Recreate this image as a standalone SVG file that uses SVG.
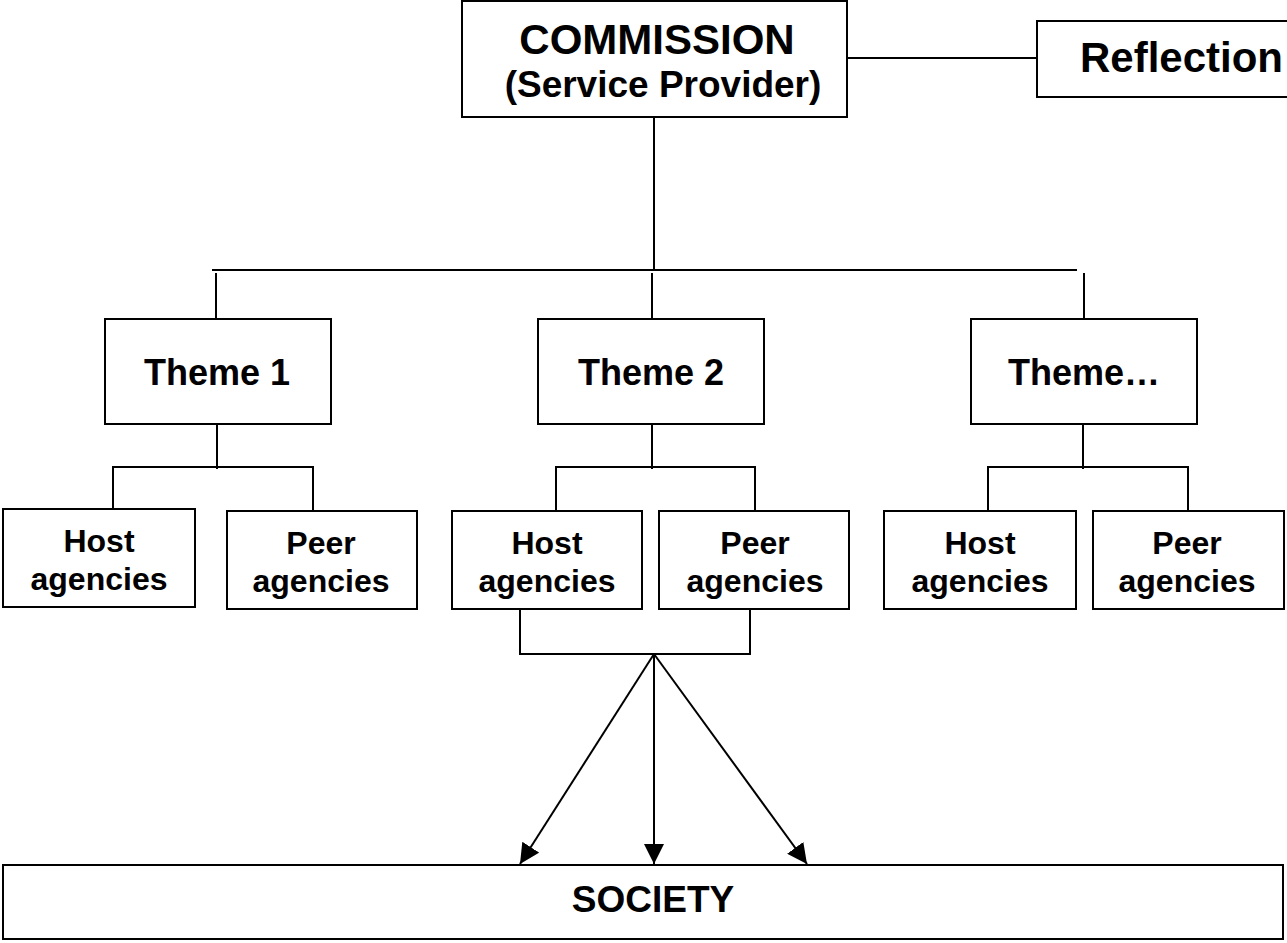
<svg xmlns="http://www.w3.org/2000/svg" width="1287" height="943" viewBox="0 0 1287 943">
<style>
.box{fill:#fff;stroke:#000;stroke-width:2}
.ln{fill:none;stroke:#000;stroke-width:2}
text{font-family:"Liberation Sans",Arial,sans-serif;font-weight:bold;fill:#000;text-anchor:middle}
.big{font-size:42px}
.ref{font-size:42px}
.mid{font-size:37px}
.th{font-size:36px}
.soc{font-size:37px}
.sm{font-size:32px}
</style>
<defs>
<marker id="arr" markerUnits="userSpaceOnUse" markerWidth="20" markerHeight="20" refX="20" refY="10" orient="auto">
<path d="M0,0 L20,10 L0,20 z" fill="#000"/>
</marker>
</defs>
<rect width="1287" height="943" fill="#fff"/>
<g id="connectors">
<line class="ln" x1="847" y1="58" x2="1037" y2="58"/>
<line class="ln" x1="654" y1="117" x2="654" y2="270"/>
<line class="ln" x1="212" y1="270" x2="1077" y2="270"/>
<line class="ln" x1="216" y1="273" x2="216" y2="319"/>
<line class="ln" x1="652" y1="273" x2="652" y2="319"/>
<line class="ln" x1="1084" y1="273" x2="1084" y2="319"/>
<path class="ln" d="M217,424 V469 M113,509 V467 H313 V511"/>
<path class="ln" d="M652,424 V469 M556,511 V467 H755 V511"/>
<path class="ln" d="M1083,424 V469 M988,511 V467 H1188 V511"/>
<path class="ln" d="M520,596 V654 H750 V596"/>
<line class="ln" x1="654" y1="654" x2="520" y2="864" marker-end="url(#arr)"/>
<line class="ln" x1="654" y1="654" x2="654" y2="864" marker-end="url(#arr)"/>
<line class="ln" x1="654" y1="654" x2="807" y2="864" marker-end="url(#arr)"/>
</g>
<g id="commission">
<rect class="box" x="462" y="1" width="385" height="116"/>
<text class="big" x="657" y="54">COMMISSION</text>
<text class="mid" x="663" y="97">(Service Provider)</text>
</g>
<g id="reflection">
<rect class="box" x="1037" y="21" width="260" height="76"/>
<text class="ref" x="1080" y="72" style="text-anchor:start">Reflection</text>
</g>
<g id="theme1">
<rect class="box" x="105" y="319" width="226" height="105"/>
<text class="th" x="217" y="385">Theme 1</text>
</g>
<g id="theme2">
<rect class="box" x="538" y="319" width="226" height="105"/>
<text class="th" x="651" y="385">Theme 2</text>
</g>
<g id="theme3">
<rect class="box" x="971" y="319" width="226" height="105"/>
<text class="th" x="1084" y="385">Theme…</text>
</g>
<g id="host1">
<rect class="box" x="3" y="509" width="192" height="98"/>
<text class="sm" x="99" y="552">Host</text>
<text class="sm" x="99" y="590">agencies</text>
</g>
<g id="peer1">
<rect class="box" x="227" y="511" width="190" height="98"/>
<text class="sm" x="321" y="554">Peer</text>
<text class="sm" x="321" y="592">agencies</text>
</g>
<g id="host2">
<rect class="box" x="452" y="511" width="190" height="98"/>
<text class="sm" x="547" y="554">Host</text>
<text class="sm" x="547" y="592">agencies</text>
</g>
<g id="peer2">
<rect class="box" x="659" y="511" width="190" height="98"/>
<text class="sm" x="755" y="554">Peer</text>
<text class="sm" x="755" y="592">agencies</text>
</g>
<g id="host3">
<rect class="box" x="884" y="511" width="192" height="98"/>
<text class="sm" x="980" y="554">Host</text>
<text class="sm" x="980" y="592">agencies</text>
</g>
<g id="peer3">
<rect class="box" x="1093" y="511" width="191" height="98"/>
<text class="sm" x="1187" y="554">Peer</text>
<text class="sm" x="1187" y="592">agencies</text>
</g>
<g id="society">
<rect class="box" x="3" y="865" width="1280" height="74"/>
<text class="soc" x="653" y="912">SOCIETY</text>
</g>
</svg>
